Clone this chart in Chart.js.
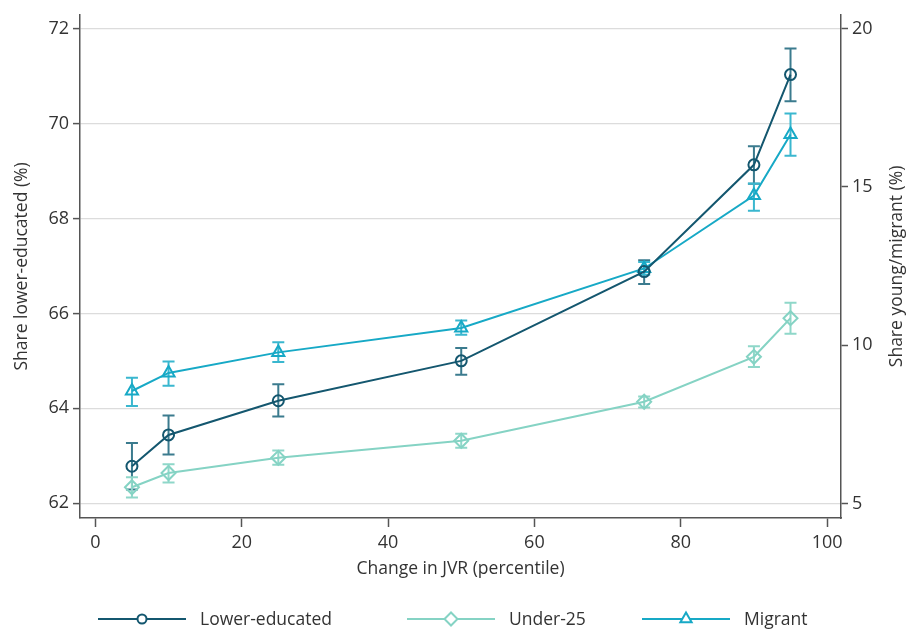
<!DOCTYPE html>
<html>
<head>
<meta charset="utf-8">
<script src="https://cdn.jsdelivr.net/npm/chart.js@4"></script>
<style>
  html, body { margin: 0; padding: 0; background: #fff; }
  #wrap { width: 915px; height: 630px; position: relative; }
</style>
</head>
<body>
<div id="wrap"><canvas id="jvrChart" width="915" height="630"></canvas></div>
<script>
// percentile of change in JVR
const percentiles = [5, 10, 25, 50, 75, 90, 95];

// share lower-educated (%), left axis, with 95% CI
const lowerEdu = [62.78, 63.44, 64.16, 65.00, 66.88, 69.13, 71.03];
const lowerEduLo = [62.29, 63.03, 63.83, 64.71, 66.62, 68.73, 70.47];
const lowerEduHi = [63.27, 63.85, 64.51, 65.27, 67.12, 69.52, 71.58];

// share under-25 (%), right axis
const under25 = [5.51, 5.96, 6.44, 6.98, 8.21, 9.63, 10.85];
const under25Lo = [5.19, 5.66, 6.22, 6.76, 8.03, 9.31, 10.36];
const under25Hi = [5.83, 6.24, 6.67, 7.20, 8.38, 9.96, 11.34];

// share migrant (%), right axis
const migrant = [8.55, 9.12, 9.77, 10.54, 12.42, 14.72, 16.65];
const migrantLo = [8.08, 8.72, 9.47, 10.33, 12.22, 14.24, 15.98];
const migrantHi = [8.97, 9.48, 10.09, 10.78, 12.62, 15.10, 17.31];

const xTicks = [0, 20, 40, 60, 80, 100];
const leftTicks = [62, 64, 66, 68, 70, 72];
const rightTicks = [5, 10, 15, 20];

const FONT = '"Open Sans", "Noto Sans", sans-serif';
const AXIS = '#555555';
const TEXT = '#333333';
const RIGHT_TITLE = 'Share young/migrant (%)';

function pts(ys) {
    return ys.map((y, i) => ({ x: percentiles[i], y: y }));
}

const seriesStyle = [
    { label: 'Lower-educated', color: '#14576f', errColor: '#3b7b8e', style: 'circle', r: 5.5, axis: 'yL', lo: lowerEduLo, hi: lowerEduHi },
    { label: 'Under-25', color: '#85d3c4', errColor: '#8fd7c9', style: 'rectRot', r: 7, axis: 'yR', lo: under25Lo, hi: under25Hi },
    { label: 'Migrant', color: '#17a9c6', errColor: '#3ab7cf', style: 'triangle', r: 7, axis: 'yR', lo: migrantLo, hi: migrantHi }
];
const seriesValues = [lowerEdu, under25, migrant];

// error bars (rcap) drawn under the connected lines
const errorBars = {
    id: 'errorBars',
    beforeDatasetsDraw(chart) {
        const ctx = chart.ctx;
        const xs = chart.scales.x;
        ctx.save();
        seriesStyle.forEach(s => {
            const ys = chart.scales[s.axis];
            ctx.strokeStyle = s.errColor;
            ctx.lineWidth = 2;
            percentiles.forEach((p, i) => {
                const px = xs.getPixelForValue(p);
                const top = ys.getPixelForValue(s.hi[i]);
                const bot = ys.getPixelForValue(s.lo[i]);
                ctx.beginPath();
                ctx.moveTo(px, top); ctx.lineTo(px, bot);
                ctx.moveTo(px - 6, top); ctx.lineTo(px + 6, top);
                ctx.moveTo(px - 6, bot); ctx.lineTo(px + 6, bot);
                ctx.stroke();
            });
        });
        ctx.restore();
    }
};

// right title reads bottom-to-top like the left one
const rightTitle = {
    id: 'rightTitle',
    afterDraw(chart) {
        const ctx = chart.ctx;
        const area = chart.chartArea;
        ctx.save();
        ctx.translate(897, (area.top + area.bottom) / 2);
        ctx.rotate(-Math.PI / 2);
        ctx.fillStyle = TEXT;
        ctx.font = '17.5px ' + FONT;
        ctx.textAlign = 'center';
        ctx.textBaseline = 'middle';
        ctx.fillText(RIGHT_TITLE, 0, 0);
        ctx.restore();
    }
};

// Stata-style legend row under the plot
const bottomLegend = {
    id: 'bottomLegend',
    afterDraw(chart) {
        const ctx = chart.ctx;
        const starts = [98, 407, 642];
        const y = 619;
        ctx.save();
        seriesStyle.forEach((s, i) => {
            const x0 = starts[i];
            ctx.strokeStyle = s.color;
            ctx.lineWidth = 2;
            ctx.beginPath();
            ctx.moveTo(x0, y); ctx.lineTo(x0 + 88, y);
            ctx.stroke();
            const opts = { pointStyle: s.style, radius: s.style === 'circle' ? 4.5 : 6.5, borderWidth: 2, rotation: 0 };
            ctx.fillStyle = '#fff';
            ctx.strokeStyle = s.color;
            Chart.helpers.drawPoint(ctx, opts, x0 + 44, y);
            ctx.fillStyle = TEXT;
            ctx.font = '17.5px ' + FONT;
            ctx.textBaseline = 'middle';
            ctx.fillText(s.label, x0 + 102, y + 1);
        });
        ctx.restore();
    }
};

new Chart(document.getElementById('jvrChart').getContext('2d'), {
    type: 'line',
    data: {
        datasets: seriesStyle.map((s, i) => ({
            label: s.label,
            data: pts(seriesValues[i]),
            yAxisID: s.axis,
            borderColor: s.color,
            borderWidth: 2,
            pointStyle: s.style,
            pointRadius: s.r,
            pointBorderWidth: 2,
            pointBorderColor: s.color,
            pointBackgroundColor: 'rgba(0,0,0,0)',
            fill: false,
            tension: 0
        }))
    },
    options: {
        responsive: false,
        animation: false,
        layout: { padding: { top: 11, bottom: 46, left: 0, right: 0 } },
        plugins: { legend: { display: false }, tooltip: { enabled: false } },
        scales: {
            x: {
                type: 'linear',
                min: -2.1, max: 101.9,
                afterBuildTicks: s => { s.ticks = xTicks.map(v => ({ value: v })); },
                afterFit: s => { s.height = 66; },
                grid: { drawOnChartArea: false, tickLength: 9, tickColor: AXIS, tickWidth: 1.5 },
                border: { color: AXIS, width: 1.5 },
                ticks: { color: TEXT, font: { family: FONT, size: 18 }, padding: 5 },
                title: { display: true, text: 'Change in JVR (percentile)', color: TEXT,
                         font: { family: FONT, size: 17.5 }, padding: { top: 0, bottom: 4 } }
            },
            yL: {
                type: 'linear', position: 'left',
                min: 61.69, max: 72.29,
                afterBuildTicks: s => { s.ticks = leftTicks.map(v => ({ value: v })); },
                afterFit: s => { s.width = 80; },
                grid: { color: '#dcdcdc', lineWidth: 1.2, tickLength: 7, tickColor: AXIS, tickWidth: 1.5 },
                border: { color: AXIS, width: 1.5 },
                ticks: { color: TEXT, font: { family: FONT, size: 18 }, padding: 4 },
                title: { display: true, text: 'Share lower-educated (%)', color: TEXT,
                         font: { family: FONT, size: 17.5 }, padding: { top: 12, bottom: 0 } }
            },
            yR: {
                type: 'linear', position: 'right',
                min: 4.54, max: 20.43,
                afterBuildTicks: s => { s.ticks = rightTicks.map(v => ({ value: v })); },
                afterFit: s => { s.width = 74; },
                grid: { drawOnChartArea: false, tickLength: 7, tickColor: AXIS, tickWidth: 1.5 },
                border: { color: AXIS, width: 1.5 },
                ticks: { color: TEXT, font: { family: FONT, size: 18 }, padding: 4 },
                title: { display: false }
            }
        }
    },
    plugins: [errorBars, rightTitle, bottomLegend]
});
</script>
</body>
</html>
